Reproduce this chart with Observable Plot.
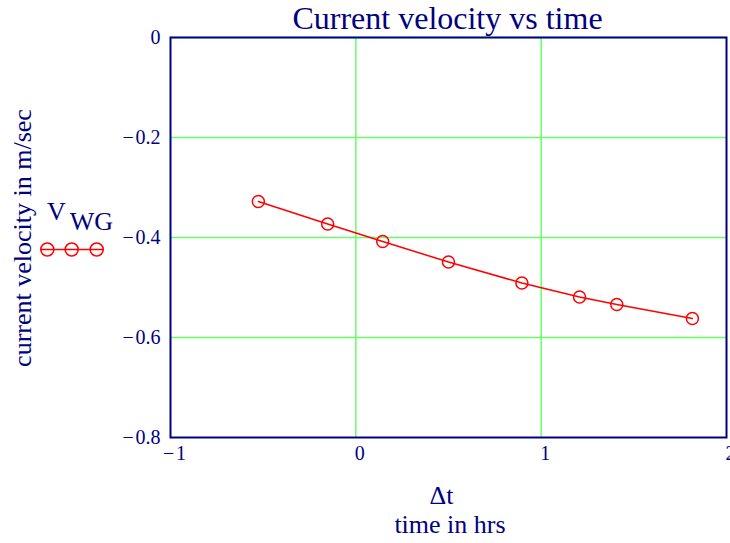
<!DOCTYPE html>
<html><head><meta charset="utf-8">
<script src="https://cdn.jsdelivr.net/npm/d3@7"></script>
<script src="https://cdn.jsdelivr.net/npm/@observablehq/plot@0.6"></script>
<style>body{margin:0;background:#fff}#chart{width:730px;height:543px}</style>
</head><body><div id="chart"></div>
<script>
// Data
const dt  = [-0.526, -0.152, 0.145, 0.500, 0.896, 1.207, 1.408, 1.816];
const vWG = [-0.328, -0.373, -0.408, -0.449, -0.491, -0.519, -0.534, -0.562];
const xTicks = [-1, 0, 1, 2];
const yTicks = [0, -0.2, -0.4, -0.6, -0.8];
const xGrid = [0, 1];
const yGrid = [0, -0.2, -0.4, -0.6];
const title = "Current velocity vs time";
const xLabel1 = "Δt";
const xLabel2 = "time in hrs";
const yLabel = "current velocity in m/sec";
const seriesName = "V";
const seriesSub = "WG";

const data = dt.map((d, i) => ({dt: d, v: vWG[i]}));
const navy = "#000080", green = "#66ff66", red = "#ff0000";
const font = "'Liberation Serif', 'Times New Roman', serif";
const fmt = d => d === 0 ? "0" : (d < 0 ? "\u2212\u200A" : "") + String(Math.abs(d));

const chart = Plot.plot({
  width: 730, height: 543,
  marginLeft: 170, marginRight: 4, marginTop: 37, marginBottom: 106,
  style: {fontFamily: font, color: navy, background: "white", overflow: "visible"},
  x: {domain: [-1, 2]},
  y: {domain: [-0.8, 0]},
  marks: [
    Plot.gridX(xGrid, {stroke: green, strokeOpacity: 1, strokeWidth: 1.5}),
    Plot.gridY(yGrid, {stroke: green, strokeOpacity: 1, strokeWidth: 1.5}),
    Plot.frame({stroke: navy, strokeWidth: 2}),
    Plot.axisX(xTicks, {tickSize: 0, tickPadding: 8, fontSize: 20, dx: 4, tickFormat: fmt, label: null, fill: navy}),
    Plot.axisY(yTicks, {tickSize: 0, tickPadding: 10, fontSize: 20, tickFormat: fmt, label: null, fill: navy}),
    Plot.line(data, {x: "dt", y: "v", stroke: red, strokeWidth: 1.5}),
    Plot.dot(data, {x: "dt", y: "v", stroke: red, strokeWidth: 1.5, r: 6, fill: "none"})
  ]
});
document.getElementById("chart").appendChild(chart);

const svg = d3.select(chart);
const txt = (x, y, s, size, anchor) => svg.append("text").attr("x", x).attr("y", y)
  .attr("text-anchor", anchor).attr("font-size", size).attr("fill", navy)
  .attr("font-family", font).text(s);
txt(447.5, 29, title, 32, "middle");
txt(441.5, 504, xLabel1, 26, "middle");
txt(450, 533, xLabel2, 26, "middle");
svg.append("text").attr("transform", "translate(31,238) rotate(-90)").attr("text-anchor", "middle")
  .attr("font-size", 26).attr("fill", navy).attr("font-family", font).text(yLabel);
const leg = svg.append("text").attr("x", 47).attr("y", 220).attr("font-size", 26)
  .attr("text-anchor", "start").attr("fill", navy).attr("font-family", font);
leg.append("tspan").text(seriesName);
leg.append("tspan").attr("dx", 4).attr("dy", 10).text(seriesSub);
svg.append("line").attr("x1", 40).attr("x2", 104).attr("y1", 249.5).attr("y2", 249.5)
  .attr("stroke", red).attr("stroke-width", 1.5);
svg.append("g").selectAll("circle").data([47.3, 71.7, 96.7]).join("circle")
  .attr("cx", d => d).attr("cy", 249.5).attr("r", 6.5).attr("fill", "none")
  .attr("stroke", red).attr("stroke-width", 1.5);
</script></body></html>
